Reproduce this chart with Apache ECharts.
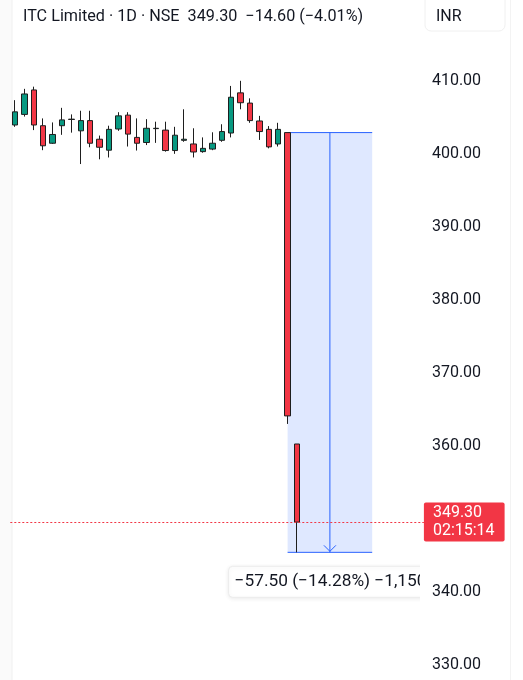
<!DOCTYPE html>
<html>
<head>
<meta charset="utf-8">
<script src="https://cdn.jsdelivr.net/npm/echarts@6/dist/echarts.min.js"></script>
<style>html,body{margin:0;padding:0;background:#fff;}#c{width:523px;height:680px;}</style>
</head>
<body>
<div id="c"></div>
<script>
// ---- data ----
// candles: [open, close, low, high]
var opens  = [403.7,405.15,408.5,403.6,401.2,403.6,404.45,402.9,404.3,401.75,400.25,403.15,405.05,402.0,401.3,403.2,403.0,400.2,401.6,401.1,400.05,400.4,401.6,402.6,408.1,406.7,404.25,403.1,401.1,402.66,360.0];
var closes = [405.5,407.95,403.7,400.85,402.4,404.4,404.5,404.3,401.2,400.65,403.1,404.95,402.45,401.2,403.25,403.25,400.2,402.3,401.75,400.0,400.5,401.2,402.8,407.5,406.75,404.3,402.8,400.7,403.1,363.85,349.3];
var lows   = [403.45,404.85,403.0,400.25,401.1,402.35,402.65,398.35,400.65,399.0,399.25,402.9,400.75,400.2,400.95,401.25,400.05,399.75,401.4,399.25,399.9,400.25,401.4,402.0,405.85,404.0,401.65,400.5,400.75,362.75,345.16];
var highs  = [407.1,408.65,408.95,404.6,404.05,406.05,405.15,405.65,405.65,402.25,403.6,405.45,405.45,404.6,404.5,404.15,404.15,403.45,405.85,403.25,402.0,402.7,403.8,409.05,409.75,407.35,404.95,403.55,404.0,402.66,360.0];
var slotCount = 44; // trading-day slots on the x axis (incl. empty future slots)
var lastPrice = 349.30;
var lastTag = '349.30\n02:15:14';
var measure = [29, 402.66, 38, 345.16]; // [startIndex, startPrice, endIndex, endPrice]
var measureText = '\u221257.50 (\u221214.28%) \u22121,150';
var headerText = 'ITC Limited \u00b7 1D \u00b7 NSE  349.30  \u221214.60 (\u22124.01%)';
var yTickInterval = 10;

var categories = [];
for (var i = 0; i < slotCount; i++) categories.push(String(i + 1));
var candleData = opens.map(function (o, i) { return [o, closes[i], lows[i], highs[i]]; });

var chart = echarts.init(document.getElementById('c'), null, {renderer: 'canvas'});
var FONT = 'Roboto, "Noto Sans", sans-serif';
var gridLeft = 10.3, gridRight = 523 - (10.3 + 9.4 * slotCount);

chart.setOption({
  animation: false,
  backgroundColor: '#ffffff',
  grid: {left: gridLeft, right: gridRight, top: 30, bottom: 17},
  xAxis: {
    type: 'category', data: categories, boundaryGap: true,
    axisLine: {show: false}, axisTick: {show: false}, axisLabel: {show: false}, splitLine: {show: false}
  },
  yAxis: {
    type: 'value', position: 'right', min: 330, max: 416.712, interval: yTickInterval, scale: true,
    axisLine: {show: false}, axisTick: {show: false}, splitLine: {show: false},
    axisLabel: {
      color: '#131722', fontSize: 16, fontFamily: FONT, margin: 8, showMaxLabel: false,
      verticalAlign: 'top', lineHeight: 4,
      formatter: function (v) { return v.toFixed(2); }
    }
  },
  series: [
    {
      type: 'custom',
      z: 1,
      clip: true,
      encode: {x: [0, 2], y: [1, 3]},
      data: [measure],
      renderItem: function (params, api) {
        var p1 = api.coord([api.value(0), api.value(1)]);
        var p2 = api.coord([api.value(2), api.value(3)]);
        var x1 = p1[0], x2 = p2[0], yt = p1[1], yb = p2[1];
        var mx = (x1 + x2) / 2;
        var blue = '#2962ff';
        return {
          type: 'group',
          children: [
            {type: 'rect', shape: {x: x1, y: yt, width: x2 - x1, height: yb - yt}, style: {fill: 'rgba(41,98,255,0.15)'}},
            {type: 'line', shape: {x1: x1, y1: yt, x2: x2, y2: yt}, style: {stroke: blue, lineWidth: 1}},
            {type: 'line', shape: {x1: x1, y1: yb, x2: x2, y2: yb}, style: {stroke: blue, lineWidth: 1}},
            {type: 'line', shape: {x1: mx, y1: yt, x2: mx, y2: yb}, style: {stroke: blue, lineWidth: 1}},
            {type: 'polyline', shape: {points: [[mx - 6, yb - 7], [mx, yb - 1], [mx + 6, yb - 7]]}, style: {stroke: blue, lineWidth: 1, fill: null}},
            {type: 'rect', shape: {x: x1 - 59, y: yb + 14, width: 200, height: 31, r: 4},
              style: {fill: '#ffffff', stroke: '#ececec', lineWidth: 1, shadowBlur: 4, shadowColor: 'rgba(0,0,0,0.08)', shadowOffsetY: 1}},
            {type: 'text', x: x1 - 53, y: yb + 29.5,
              style: {text: measureText, fill: '#131722', fontSize: 17.3, fontFamily: FONT, verticalAlign: 'middle', align: 'left'}},
            {type: 'rect', shape: {x: x1 + 132.4, y: yb + 10, width: 11, height: 40}, style: {fill: '#ffffff'}}
          ]
        };
      }
    },
    {
      type: 'candlestick',
      z: 3,
      data: candleData,
      barWidth: 6,
      itemStyle: {
        color: '#089981', color0: '#f23645',
        borderColor: '#1e1e1e', borderColor0: '#1e1e1e', borderWidth: 1
      },
      markLine: {
        silent: true,
        symbol: ['none', 'none'],
        data: [{yAxis: lastPrice}],
        lineStyle: {color: '#f23645', type: [2, 2], width: 1},
        label: {
          show: true, position: 'end', distance: 0,
          formatter: lastTag,
          backgroundColor: '#f23645', color: '#ffffff', fontSize: 16, fontFamily: FONT,
          lineHeight: 18, padding: [2, 10, 1, 9], borderRadius: 2, align: 'left'
        }
      }
    }
  ],
  graphic: [
    {type: 'rect', shape: {x: 0, y: 0, width: 12, height: 680}, style: {fill: '#fafafa'}, z: -1, silent: true},
    {type: 'line', shape: {x1: 12, y1: 0, x2: 12, y2: 680}, style: {stroke: '#f0f0f0', lineWidth: 1}, z: -1, silent: true},
    {type: 'line', shape: {x1: 510.5, y1: 0, x2: 510.5, y2: 680}, style: {stroke: '#f3f3f3', lineWidth: 1}, z: -1, silent: true},
    {type: 'text', x: 23, y: 16.5, style: {text: headerText, fill: '#131722', fontSize: 16.2, fontFamily: FONT, verticalAlign: 'middle'}, z: 10},
    {type: 'rect', shape: {x: 425, y: -6, width: 80, height: 37, r: 6}, style: {fill: '#ffffff', stroke: '#f0f0f0', lineWidth: 1}, z: 10},
    {type: 'text', x: 436, y: 16.5, style: {text: 'INR', fill: '#131722', fontSize: 16, fontFamily: FONT, verticalAlign: 'middle'}, z: 11}
  ]
});
</script>
</body>
</html>
